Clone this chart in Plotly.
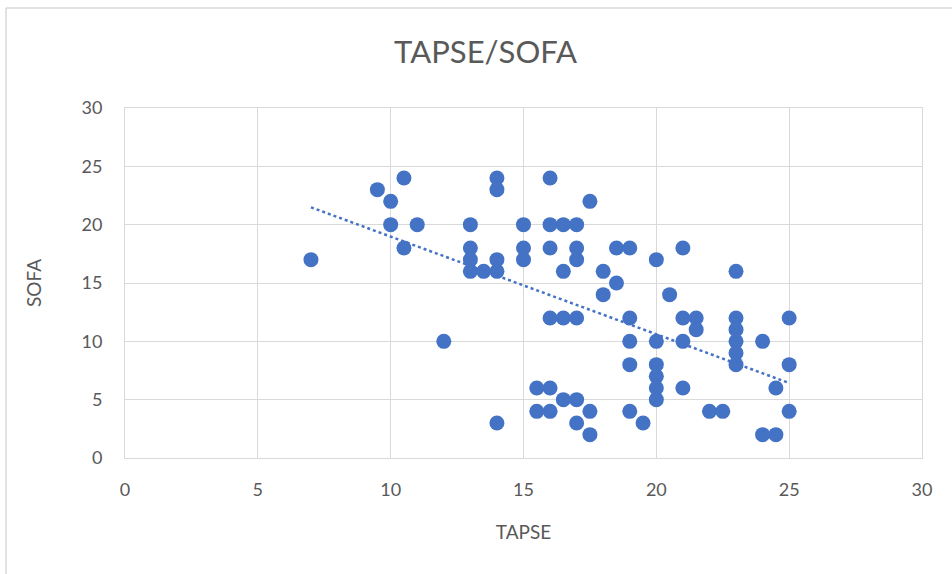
import numpy as np
import plotly.graph_objects as go

# TAPSE (mm) and SOFA score per patient
tapse = [7, 9.5, 10, 10, 10.5, 10.5, 11, 12,
         13, 13, 13, 13, 13.5, 14, 14, 14, 14, 14,
         15, 15, 15, 15.5, 15.5,
         16, 16, 16, 16, 16, 16,
         16.5, 16.5, 16.5, 16.5,
         17, 17, 17, 17, 17, 17,
         17.5, 17.5, 17.5, 18, 18, 18.5, 18.5,
         19, 19, 19, 19, 19, 19.5,
         20, 20, 20, 20, 20, 20, 20.5,
         21, 21, 21, 21, 21.5, 21.5, 22, 22.5,
         23, 23, 23, 23, 23, 23,
         24, 24, 24.5, 24.5, 25, 25, 25]
sofa = [17, 23, 22, 20, 24, 18, 20, 10,
        20, 18, 17, 16, 16, 16, 17, 24, 23, 3,
        20, 18, 17, 6, 4,
        24, 20, 18, 12, 6, 4,
        20, 16, 12, 5,
        20, 18, 17, 12, 5, 3,
        22, 4, 2, 16, 14, 18, 15,
        18, 12, 10, 8, 4, 3,
        17, 10, 8, 7, 6, 5, 14,
        18, 12, 10, 6, 12, 11, 4, 4,
        16, 12, 11, 10, 9, 8,
        10, 2, 6, 2, 12, 8, 4]

x_ticks = [0, 5, 10, 15, 20, 25, 30]
y_ticks = [0, 5, 10, 15, 20, 25, 30]

blue = "#4472C4"
grid = "#d9d9d9"
text = "#595959"
font_family = "Lato, 'Open Sans', sans-serif"

# plot-area geometry in pixels
W, H = 952, 574
ML, MR, MT, MB = 125, 30, 108, 116
PW, PH = W - ML - MR, H - MT - MB

# Linear least-squares trendline over the observed TAPSE range
slope, intercept = np.polyfit(tapse, sofa, 1)
trend_x = np.array([min(tapse), max(tapse)])
trend_y = slope * trend_x + intercept

fig = go.Figure()
fig.add_trace(go.Scatter(
    x=tapse, y=sofa, mode="markers",
    marker=dict(size=15, color=blue, line=dict(width=0)),
    showlegend=False, hoverinfo="x+y",
))
fig.add_trace(go.Scatter(
    x=trend_x, y=trend_y, mode="lines",
    line=dict(color=blue, width=2.5, dash="dot"),
    showlegend=False, hoverinfo="skip",
))

# outer chart-area frame: left edge at x=6px, top edge at y=8px
frame_x = (6 - ML) / PW
frame_top = (H - MB - 8) / PH
frame_bottom = -MB / PH

fig.update_layout(
    width=W, height=H,
    margin=dict(l=ML, r=MR, t=MT, b=MB),
    paper_bgcolor="white", plot_bgcolor="white",
    font=dict(family=font_family, color=text, size=18),
    title=dict(text="TAPSE/SOFA", x=0.51, xanchor="center",
               y=0.91, yanchor="middle",
               font=dict(size=31, color=text, family=font_family)),
    xaxis=dict(
        range=[0, 30], tickvals=x_ticks, ticktext=[str(v) for v in x_ticks],
        showgrid=True, gridcolor=grid, gridwidth=1, zeroline=False,
        showline=True, linecolor=grid, linewidth=1, mirror=True,
        ticks="", tickfont=dict(size=18, color=text), ticklabelstandoff=15,
        title=dict(text="TAPSE", font=dict(size=19, color=text), standoff=27),
    ),
    yaxis=dict(
        range=[0, 30], tickvals=y_ticks, ticktext=[str(v) for v in y_ticks],
        showgrid=True, gridcolor=grid, gridwidth=1, zeroline=False,
        showline=True, linecolor=grid, linewidth=1, mirror=True,
        ticks="", tickfont=dict(size=18, color=text), ticklabelstandoff=18,
        title=dict(text="SOFA", font=dict(size=19, color=text), standoff=34),
    ),
    shapes=[
        dict(type="line", xref="paper", yref="paper",
             x0=frame_x, x1=frame_x, y0=frame_bottom, y1=frame_top,
             line=dict(color=grid, width=1.5)),
        dict(type="line", xref="paper", yref="paper",
             x0=frame_x, x1=(W - ML) / PW, y0=frame_top, y1=frame_top,
             line=dict(color=grid, width=1.5)),
    ],
)

fig.write_html("out.html")
